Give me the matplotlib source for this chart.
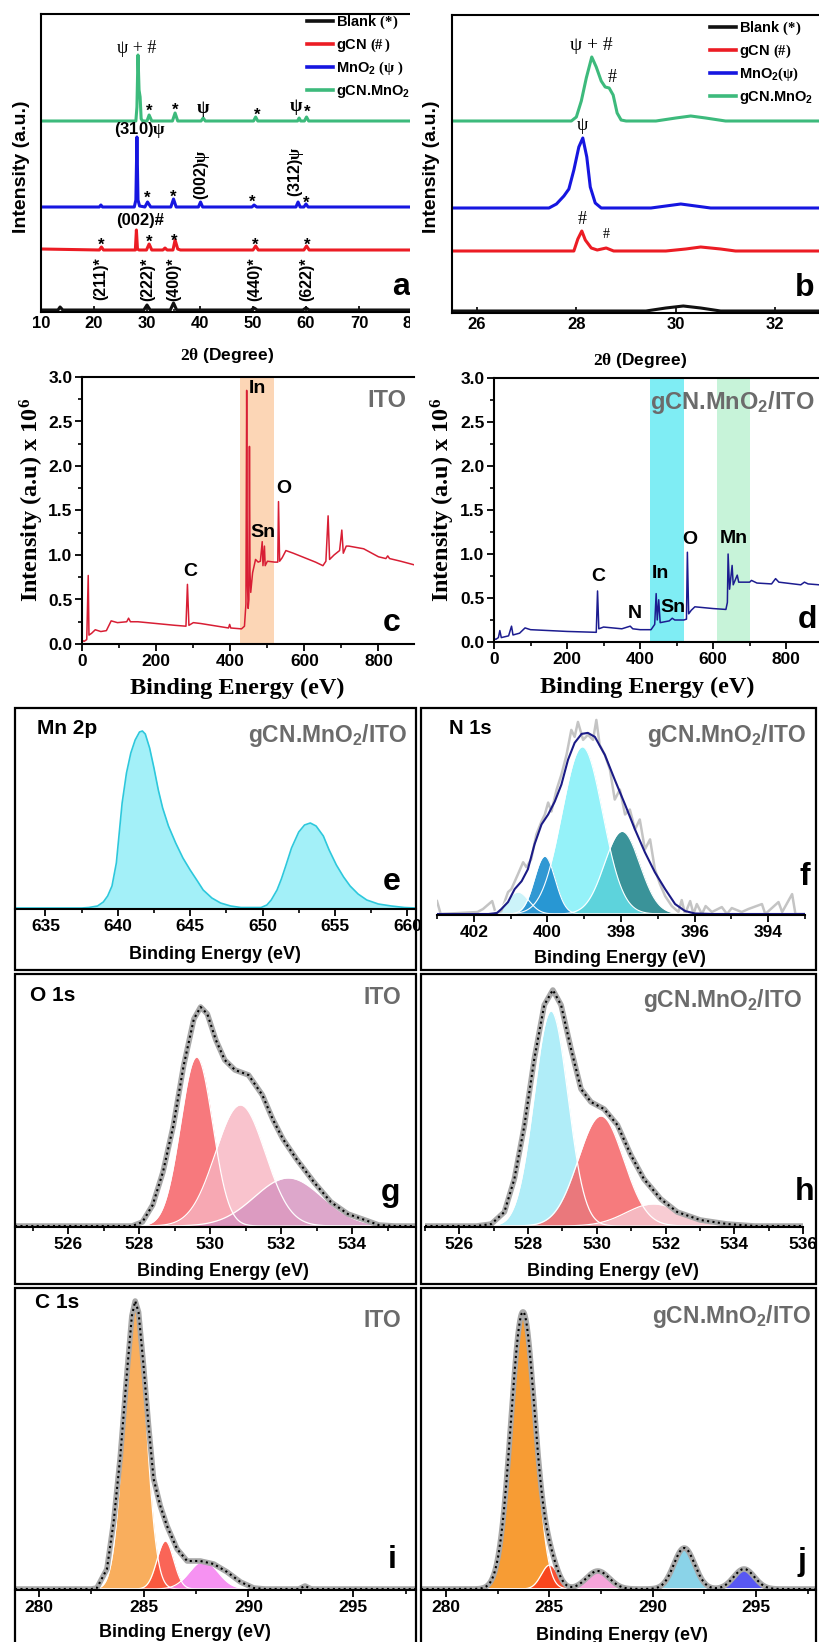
import numpy as np
import matplotlib
matplotlib.use('Agg')
import matplotlib.pyplot as plt
from matplotlib.lines import Line2D
from matplotlib.patches import Rectangle
from matplotlib.ticker import MultipleLocator, FormatStrFormatter

plt.rcParams.update({
    'font.family': 'Liberation Sans',
    'font.weight': 'bold',
    'mathtext.fontset': 'custom',
    'mathtext.rm': 'Liberation Serif',
    'mathtext.it': 'Liberation Serif:italic',
    'mathtext.bf': 'Liberation Sans:bold',
    'mathtext.tt': 'Liberation Serif:bold',
    'axes.linewidth': 1.5,
})

# ---------------------------------------------------------------- XRD (a, b)
# (2theta, intensity offset) pairs, stacked traces
XRD_BLANK = [(10, 2), (13.2, 2), (13.6, 5), (14.1, 2), (29.4, 2), (30.0, 7), (30.6, 2),
             (34.4, 2), (35.0, 9), (35.6, 2), (49.6, 2), (50.2, 4), (50.8, 2),
             (59.4, 2), (60.0, 4), (60.6, 2), (80, 2)]
XRD_GCN = [(10, 63), (21.0, 62), (21.4, 65), (21.8, 62), (27.8, 62), (28.0, 82), (28.2, 63),
           (28.5, 62), (29.9, 62), (30.4, 68), (30.9, 62), (33.0, 62), (33.4, 64), (33.8, 62),
           (34.9, 62), (35.3, 72), (35.8, 63), (36.3, 62), (50.0, 62), (50.5, 66), (51.0, 62),
           (59.6, 62), (60.1, 66), (60.6, 62), (80, 62)]
XRD_MNO2 = [(10, 105), (21.0, 105), (21.3, 107), (21.6, 105), (27.6, 105), (27.9, 112),
            (28.1, 175), (28.3, 112), (28.6, 106), (29.6, 105), (30.1, 110), (30.7, 105),
            (34.5, 105), (35.0, 113), (35.5, 105), (39.7, 105), (40.1, 110), (40.5, 105),
            (49.8, 105), (50.2, 107), (50.7, 105), (58.1, 105), (58.5, 110), (58.9, 105),
            (59.6, 105), (60.0, 108), (60.4, 105), (80, 105)]
XRD_COMPOSITE = [(10, 191), (27.9, 191), (28.1, 205), (28.3, 257), (28.5, 222), (28.7, 215),
                 (28.9, 193), (29.2, 191), (30.0, 191), (30.4, 197), (30.9, 191), (34.8, 191),
                 (35.3, 199), (35.8, 191), (40.2, 191), (40.6, 194), (41.0, 191), (50.1, 191),
                 (50.5, 195), (50.9, 191), (58.4, 191), (58.7, 194), (59.0, 191), (59.7, 191),
                 (60.1, 195), (60.5, 191), (80, 191)]

ZOOM_BLANK = [(25.5, 2), (29.4, 2), (29.8, 5), (30.15, 7), (30.5, 5), (30.9, 2), (33.1, 2)]
ZOOM_GCN = [(25.5, 62), (27.95, 62), (28.03, 74), (28.11, 82), (28.18, 73), (28.3, 65),
            (28.42, 63), (28.6, 65), (28.75, 62), (29.8, 62), (30.2, 64), (30.5, 66),
            (30.9, 64), (31.2, 62), (33.1, 62)]
ZOOM_MNO2 = [(25.5, 105), (27.45, 105), (27.6, 109), (27.75, 117), (27.85, 124), (27.95, 143),
             (28.05, 166), (28.13, 175), (28.21, 156), (28.28, 126), (28.38, 110), (28.5, 105),
             (29.5, 105), (30.1, 109), (30.7, 105), (33.1, 105)]
ZOOM_COMPOSITE = [(25.5, 192), (27.9, 192), (28.0, 196), (28.1, 212), (28.2, 235), (28.31, 256),
                  (28.4, 246), (28.5, 232), (28.58, 226), (28.66, 225), (28.74, 218),
                  (28.82, 200), (28.9, 193), (29.0, 192), (29.6, 192), (30.0, 195), (30.3, 197),
                  (30.6, 195), (31.0, 192), (33.1, 192)]

XRD_COLORS = ['#111111', '#ec1c24', '#1616e0', '#3dba7c']
XRD_LABELS_A = ['Blank $\\mathrm{(*)}$', 'gCN $\\mathrm{(\\#\\,)}$',
                'MnO$_\\mathbf{2}$ $\\mathrm{(\\psi\\ )}$', 'gCN.MnO$_\\mathbf{2}$']
XRD_LABELS_B = ['Blank $\\mathrm{(*)}$', 'gCN $\\mathrm{(\\#)}$',
                'MnO$_\\mathbf{2}$$\\mathrm{(\\psi)}$', 'gCN.MnO$_\\mathbf{2}$']

# ---------------------------------------------------------------- XPS survey (c, d)
SURVEY_ITO = [(0, 0.04), (5, 0.03), (12, 0.05), (16, 0.77), (18, 0.1), (25, 0.12), (35, 0.16),
              (50, 0.14), (65, 0.15), (78, 0.26), (95, 0.24), (120, 0.25), (125, 0.29),
              (130, 0.25), (150, 0.25), (200, 0.23), (250, 0.21), (280, 0.2), (284, 0.67),
              (288, 0.21), (300, 0.24), (320, 0.23), (350, 0.21), (395, 0.18), (398, 0.22),
              (401, 0.18), (430, 0.17), (438, 0.2), (442, 0.45), (444, 2.85), (446, 0.7),
              (448, 0.4), (450, 0.5), (451.5, 2.22), (453, 0.8), (455, 0.58), (460, 0.8),
              (468, 0.95), (475, 0.92), (481, 0.93), (486, 1.15), (488, 0.88), (492, 1.1),
              (494, 0.88), (500, 0.93), (520, 0.92), (528, 0.92), (530, 1.6), (533, 0.93),
              (540, 0.97), (550, 1.05), (570, 1.02), (600, 0.97), (630, 0.92), (650, 0.88),
              (658, 0.93), (664, 1.44), (668, 0.95), (680, 1.0), (695, 1.05), (701, 1.28),
              (705, 1.02), (713, 1.1), (720, 1.1), (760, 1.07), (800, 0.98), (820, 0.96),
              (825, 0.99), (830, 0.96), (860, 0.93), (896, 0.89)]
SURVEY_COMPOSITE = [(0, 0.04), (5, 0.03), (12, 0.05), (16, 0.13), (20, 0.05), (40, 0.07),
                    (48, 0.18), (52, 0.08), (70, 0.1), (85, 0.16), (100, 0.14), (200, 0.12),
                    (280, 0.11), (283.5, 0.58), (287, 0.15), (300, 0.17), (350, 0.15),
                    (373, 0.18), (380, 0.15), (400, 0.14), (430, 0.14), (440, 0.2), (444, 0.55),
                    (447, 0.25), (451, 0.48), (455, 0.22), (480, 0.24), (488, 0.27), (495, 0.25),
                    (520, 0.25), (527, 0.26), (529.5, 1.02), (533, 0.32), (540, 0.36),
                    (550, 0.4), (600, 0.38), (635, 0.37), (639, 0.45), (641, 1.0), (645, 0.6),
                    (652, 0.87), (655, 0.65), (666, 0.76), (670, 0.68), (700, 0.68), (705, 0.7),
                    (720, 0.67), (760, 0.66), (771, 0.72), (780, 0.68), (840, 0.65), (850, 0.68),
                    (860, 0.66), (920, 0.64)]
ITO_BAND = (426, 519)
MN_BANDS = [(427, 520, '#7fedf4'), (611, 700, '#c7f3d9')]

# ---------------------------------------------------------------- Mn 2p (e)
MN2P = [(632.9, 0), (637.5, 0), (638.0, 0.5), (638.6, 2), (639.0, 6), (639.3, 12),
        (639.6, 22), (639.9, 45), (640.1, 75), (640.3, 105), (640.6, 135), (640.9, 155),
        (641.2, 168), (641.5, 176), (641.7, 177), (641.9, 174), (642.2, 160), (642.5, 140),
        (642.8, 118), (643.1, 100), (643.5, 82), (644.0, 65), (644.5, 50), (645.0, 38),
        (645.5, 27), (645.9, 18), (646.5, 10), (647.1, 5), (647.8, 2), (648.5, 0.5),
        (649.9, 0.5), (650.3, 3), (650.6, 8), (651.0, 18), (651.3, 29), (651.6, 42),
        (652.0, 60), (652.5, 76), (652.9, 83), (653.3, 85), (653.7, 82), (654.2, 72),
        (654.6, 58), (655.1, 43), (655.6, 31), (656.05, 22), (656.6, 14), (657.2, 8),
        (658.0, 4), (658.9, 2), (659.8, 0.5), (660.6, 0)]

# ---------------------------------------------------------------- N 1s (f)
N1S_RAW = [(403.0, 13), (402.9, 0), (401.9, 2), (401.75, 5), (401.5, 13), (401.4, 0),
           (401.25, 3), (401.07, 22), (400.98, 25), (400.8, 40), (400.66, 52), (400.57, 47),
           (400.44, 55), (400.3, 80), (400.16, 93), (400.07, 100), (399.98, 112),
           (399.89, 103), (399.75, 125), (399.62, 140), (399.48, 160), (399.35, 185),
           (399.26, 178), (399.17, 193), (399.03, 175), (398.9, 180), (398.76, 175),
           (398.67, 195), (398.58, 170), (398.44, 160), (398.3, 145), (398.17, 115),
           (398.03, 125), (397.89, 100), (397.76, 105), (397.62, 85), (397.49, 95),
           (397.35, 65), (397.21, 75), (397.08, 45), (396.94, 30), (396.8, 18), (396.62, 8),
           (396.44, 2), (396.35, 14), (396.26, 0), (396.12, 13), (396.03, 0), (395.94, 10),
           (395.8, 0), (395.7, 8), (395.53, 2), (395.26, 7), (395.12, 0), (394.99, 6),
           (394.72, 2), (394.54, 5), (394.17, 10), (394.08, 0), (393.72, 12), (393.62, 2),
           (393.35, 20), (393.26, 0), (393.0, 0)]
N1S_ENVELOPE = [(403.0, 0), (401.6, 0), (401.37, 1), (401.25, 5), (401.07, 12), (400.89, 25),
                (400.7, 33), (400.53, 45), (400.35, 70), (400.16, 90), (399.98, 100),
                (399.8, 113), (399.62, 130), (399.44, 155), (399.26, 172), (399.07, 181),
                (398.9, 182), (398.71, 178), (398.44, 160), (398.17, 135), (397.89, 110),
                (397.62, 85), (397.35, 62), (397.08, 42), (396.8, 25), (396.53, 10),
                (396.26, 3), (395.99, 0.5), (395.5, 0), (393.0, 0)]
N1S_CENTER = [397.97, 399.05, 400.8, 400.07]
N1S_HEIGHT = [83, 168, 22, 58]
N1S_SIGMA = [0.48, 0.55, 0.3, 0.28]
N1S_COLOR = ['#3a9399', '#6cedf7', '#c4f1f8', '#1f8fd0']
N1S_ALPHA = [1.0, 0.72, 0.85, 0.92]

# ---------------------------------------------------------------- O 1s (g, h)
O1S_ITO_ENVELOPE = [(524.5, 0), (527.8, 0), (528.09, 4), (528.38, 21), (528.67, 54),
                    (528.96, 100), (529.25, 160), (529.54, 207), (529.73, 219), (529.92, 212),
                    (530.16, 186), (530.41, 166), (530.7, 156), (531.08, 151), (531.47, 131),
                    (531.76, 107), (532.05, 87), (532.43, 67), (532.92, 44), (533.4, 24),
                    (533.88, 12), (534.36, 6), (534.75, 1), (535.2, 0), (535.8, 0)]
O1S_ITO_CENTER = [529.62, 530.85, 532.2]
O1S_ITO_HEIGHT = [169, 121, 48]
O1S_ITO_SIGMA = [0.45, 0.70, 0.95]
O1S_ITO_COLOR = ['#f6585d', '#f8b4c1', '#d591bf']

O1S_MN_ENVELOPE = [(525.0, 0), (526.5, 0), (526.93, 2), (527.31, 14), (527.6, 47),
                   (527.89, 100), (528.18, 167), (528.47, 221), (528.72, 236), (528.96, 221),
                   (529.25, 177), (529.54, 137), (529.83, 124), (530.21, 117), (530.6, 101),
                   (530.99, 71), (531.37, 47), (531.86, 27), (532.34, 14), (533.01, 6),
                   (533.79, 2), (534.6, 0), (536.0, 0)]
O1S_MN_CENTER = [528.67, 530.12, 531.65]
O1S_MN_HEIGHT = [215, 110, 22]
O1S_MN_SIGMA = [0.49, 0.66, 0.8]
O1S_MN_COLOR = ['#a2eaf7', '#f56466', '#f7c3cc']

# ---------------------------------------------------------------- C 1s (i, j)
C1S_ITO_ENVELOPE = [(278.85, 0), (282.5, 0), (282.76, 1), (283.24, 20), (283.56, 67),
                    (283.88, 133), (284.2, 217), (284.43, 273), (284.59, 288), (284.75, 277),
                    (284.99, 223), (285.23, 163), (285.47, 110), (285.79, 83), (286.11, 63),
                    (286.59, 40), (287.07, 28), (287.7, 28), (288.34, 25), (288.98, 17),
                    (289.62, 7), (290.25, 1), (290.8, 0), (292.4, 0), (292.7, 3), (293.0, 0),
                    (298.0, 0)]
C1S_ITO_CENTER = [284.58, 286.03, 287.86]
C1S_ITO_HEIGHT = [287, 48, 28]
C1S_ITO_SIGMA = [0.52, 0.4, 0.68]
C1S_ITO_COLOR = ['#f9a040', '#fa4a3a', '#f57ff0']

C1S_MN_CENTER = [283.73, 285.02, 287.35, 291.53, 294.42]
C1S_MN_HEIGHT = [277, 24, 18, 41, 20]
C1S_MN_SIGMA = [0.58, 0.4, 0.55, 0.5, 0.5]
C1S_MN_COLOR = ['#f7911e', '#fa3d1c', '#f59ad6', '#7dcfe6', '#4646f2']

GREY_TEXT = '#6b6b6b'

W, H = 819, 1642
fig = plt.figure(figsize=(W / 100, H / 100), dpi=100)


def px_axes(l, t, r, b, **kw):
    return fig.add_axes([l / W, 1 - b / H, (r - l) / W, (b - t) / H], **kw)


def px_box(l, t, r, b):
    fig.add_artist(Rectangle((l / W, 1 - b / H), (r - l) / W, (b - t) / H,
                             transform=fig.transFigure, fill=False, lw=1.6,
                             ec='black', zorder=5))


def px_text(x, y, s, **kw):
    kw.setdefault('ha', 'center')
    kw.setdefault('va', 'center')
    fig.text(x / W, 1 - y / H, s, **kw)


def pairs(data):
    arr = np.array(data, dtype=float)
    return arr[:, 0], arr[:, 1]


def gauss(x, c, h, s):
    return h * np.exp(-0.5 * ((x - c) / s) ** 2)


def draw_fit_panel(ax, xlim, ylim, major, minor):
    ax.set_xlim(*xlim)
    ax.set_ylim(*ylim)
    ax.set_yticks([])
    for side in ('left', 'right', 'top'):
        ax.spines[side].set_visible(False)
    ax.patch.set_alpha(0)
    ax.xaxis.set_major_locator(MultipleLocator(major))
    ax.xaxis.set_minor_locator(MultipleLocator(minor))
    ax.tick_params(axis='x', which='major', direction='out', length=5, width=1.3,
                   labelsize=12.5, pad=2)
    ax.tick_params(axis='x', which='minor', direction='out', length=3, width=1.2)


def draw_components(ax, x, centers, heights, sigmas, colors, alpha=0.85):
    for c, h, s, col in zip(centers, heights, sigmas, colors):
        y = gauss(x, c, h, s)
        ax.fill_between(x, 0, y, color=col, alpha=alpha, lw=0)
        ax.plot(x, y, color='white', lw=0.9)


def draw_envelope(ax, x, y):
    ax.plot(x, y, color='#a8a8a8', lw=4, solid_capstyle='round', solid_joinstyle='round')
    ax.plot(x, y, color='black', lw=1.5, ls=(0, (1, 1.6)))


# white sheet so the right-hand panels overlap the XRD legend
fig.add_artist(Rectangle((410 / W, 1 - 365 / H), 409 / W, 365 / H, transform=fig.transFigure,
                         fc='white', ec='none', zorder=0.5))

# ---------------------------------------------------------------- panel a
ax = px_axes(41, 14, 412, 312)
for trace, col in zip([XRD_BLANK, XRD_GCN, XRD_MNO2, XRD_COMPOSITE], XRD_COLORS):
    tt, y = pairs(trace)
    ax.plot(tt, y, color=col, lw=2.2, solid_joinstyle='round')
ax.set_xlim(10, 80)
ax.set_ylim(0, 298)
ax.set_yticks([])
ax.xaxis.set_major_locator(MultipleLocator(10))
ax.xaxis.set_minor_locator(MultipleLocator(5))
ax.tick_params(axis='x', which='major', direction='in', length=4, width=1.2, labelsize=12, pad=3)
ax.tick_params(axis='x', which='minor', direction='in', length=2.5, width=1.1)
handles = [Line2D([], [], color=c, lw=2.6) for c in XRD_COLORS]
ax.legend(handles, XRD_LABELS_A, loc='upper left', bbox_to_anchor=(307 / W, 1 - 14 / H),
          bbox_transform=fig.transFigure, frameon=False, fontsize=10.5, handlelength=1.75,
          handletextpad=0.25, labelspacing=0.38, borderpad=0, borderaxespad=0)
serif = dict(family='Liberation Serif', weight='normal')
ax.text(28.06, 264, 'ψ + #', size=13, ha='center', va='center', **serif)
for x, y in [(30.5, 201), (35.4, 202), (50.7, 197), (60.2, 200)]:
    ax.text(x, y, '*', size=12, ha='center', va='center')
for x, y in [(40.6, 204), (58.1, 206)]:
    ax.text(x, y, 'ψ', size=13, ha='center', va='center', family='Liberation Serif')
ax.text(28.7, 182, '(310)$\\mathrm{\\psi}$', size=12, ha='center', va='center')
for x, y in [(30.0, 114), (35.0, 115), (49.9, 110), (60.1, 109)]:
    ax.text(x, y, '*', size=12, ha='center', va='center')
ax.text(40.4, 137, '(002)$\\mathrm{\\psi}$', size=11.5, rotation=90, ha='center', va='center')
ax.text(58.1, 140, '(312)$\\mathrm{\\psi}$', size=11.5, rotation=90, ha='center', va='center')
ax.text(28.7, 92, '(002)#', size=12, ha='center', va='center')
for x, y in [(21.4, 67), (30.4, 70), (35.1, 71), (50.4, 67), (60.2, 67)]:
    ax.text(x, y, '*', size=12, ha='center', va='center')
for x, lab in [(21.2, '(211)*'), (30.2, '(222)*'), (35.1, '(400)*'), (50.4, '(440)*'),
               (60.1, '(622)*')]:
    ax.text(x, 33, lab, size=11.5, rotation=90, ha='center', va='center')
ax.text(78.0, 25, 'a', size=23, ha='center', va='center')
px_text(22, 167, 'Intensity (a.u.)', size=14, rotation=90)
px_text(227, 355, '$\\mathrm{2\\theta}$ (Degree)', size=12.5)

# ---------------------------------------------------------------- panel b
ax = px_axes(452, 15, 830, 313, zorder=1)
for trace, col in zip([ZOOM_BLANK, ZOOM_GCN, ZOOM_MNO2, ZOOM_COMPOSITE], XRD_COLORS):
    tt, y = pairs(trace)
    ax.plot(tt, y, color=col, lw=2.2, solid_joinstyle='round')
ax.set_xlim(25.5, 33.1)
ax.set_ylim(0, 298)
ax.set_yticks([])
ax.xaxis.set_major_locator(MultipleLocator(2))
ax.xaxis.set_minor_locator(MultipleLocator(1))
ax.tick_params(axis='x', which='major', direction='in', length=4, width=1.2, labelsize=12, pad=3)
ax.tick_params(axis='x', which='minor', direction='in', length=2.5, width=1.1)
ax.legend(handles, XRD_LABELS_B, loc='upper left', bbox_to_anchor=(710 / W, 1 - 20 / H),
          bbox_transform=fig.transFigure, frameon=False, fontsize=10.5, handlelength=1.75,
          handletextpad=0.25, labelspacing=0.38, borderpad=0, borderaxespad=0)
ax.text(28.31, 267, 'ψ + #', size=14, ha='center', va='center', **serif)
ax.text(28.72, 236, '#', size=13, ha='center', va='center', **serif)
ax.text(28.13, 188, 'ψ', size=13, ha='center', va='center', **serif)
ax.text(28.11, 94, '#', size=13, ha='center', va='center', **serif)
ax.text(28.6, 79, '#', size=10, ha='center', va='center', **serif)
ax.text(32.6, 25, 'b', size=23, ha='center', va='center')
px_text(432, 167, 'Intensity (a.u.)', size=14, rotation=90, zorder=4)
px_text(640, 360, '$\\mathrm{2\\theta}$ (Degree)', size=12.5, zorder=4)

# ---------------------------------------------------------------- panels c, d
survey_font = dict(family='Liberation Serif', weight='bold')


def survey_axes(ax, xmax):
    ax.set_xlim(0, xmax)
    ax.set_ylim(0, 3.0)
    ax.spines['right'].set_visible(False)
    ax.xaxis.set_major_locator(MultipleLocator(200))
    ax.xaxis.set_minor_locator(MultipleLocator(100))
    ax.yaxis.set_major_locator(MultipleLocator(0.5))
    ax.yaxis.set_minor_locator(MultipleLocator(0.25))
    ax.yaxis.set_major_formatter(FormatStrFormatter('%.1f'))
    ax.tick_params(which='major', direction='out', length=5, width=1.3, labelsize=12.5, pad=2)
    ax.tick_params(which='minor', direction='out', length=3, width=1.2)


ax = px_axes(82.3, 377, 414, 644)
ax.axvspan(*ITO_BAND, color='#fcd6b6', lw=0)
e, i = pairs(SURVEY_ITO)
ax.plot(e, i, color='#d81e34', lw=1.1)
survey_axes(ax, 896)
ax.text(474, 2.87, 'In', size=14, ha='center', va='center')
ax.text(489, 1.25, 'Sn', size=14, ha='center', va='center')
ax.text(543, 1.75, 'O', size=14, ha='center', va='center')
ax.text(292, 0.82, 'C', size=14, ha='center', va='center')
px_text(387, 400, 'ITO', size=17, color=GREY_TEXT)
px_text(392, 623, 'c', size=23)
px_text(32, 500, 'Intensity (a.u) x 10$^\\mathtt{6}$', size=17.5, rotation=90, **survey_font)
px_text(237, 688, 'Binding Energy (eV)', size=17.5, **survey_font)

ax = px_axes(494, 378, 830, 642)
for lo, hi, col in MN_BANDS:
    ax.axvspan(lo, hi, color=col, lw=0)
e, i = pairs(SURVEY_COMPOSITE)
ax.plot(e, i, color='#1c1c90', lw=1.1)
survey_axes(ax, 920)
ax.text(285, 0.74, 'C', size=14, ha='center', va='center')
ax.text(385, 0.32, 'N', size=14, ha='center', va='center')
ax.text(456, 0.78, 'In', size=14, ha='center', va='center')
ax.text(491, 0.39, 'Sn', size=14, ha='center', va='center')
ax.text(536, 1.17, 'O', size=14, ha='center', va='center')
ax.text(657, 1.18, 'Mn', size=14, ha='center', va='center')
px_text(732, 402, 'gCN.MnO$_\\mathbf{2}$/ITO', size=17, color=GREY_TEXT)
px_text(807, 620, 'd', size=23)
px_text(443, 500, 'Intensity (a.u) x 10$^\\mathtt{6}$', size=17.5, rotation=90, **survey_font)
px_text(647, 687, 'Binding Energy (eV)', size=17.5, **survey_font)

# ---------------------------------------------------------------- panel e
ax = px_axes(15, 709, 416, 909)
e, i = pairs(MN2P)
ax.fill_between(e, 0, i, color='#a3f0f8', lw=0)
ax.plot(e, i, color='#2dc8dc', lw=1.2, solid_joinstyle='round')
draw_fit_panel(ax, (632.9, 660.6), (-1, 199), 5, 2.5)
px_box(15, 708, 416, 970)
px_text(67, 728, 'Mn 2p', size=15)
px_text(328, 735, 'gCN.MnO$_\\mathbf{2}$/ITO', size=16.5, color=GREY_TEXT)
px_text(392, 882, 'e', size=23)
px_text(215, 954, 'Binding Energy (eV)', size=13)

# ---------------------------------------------------------------- panel f
ax = px_axes(437, 709, 805, 915)
x = np.linspace(393, 403, 600)
er, yr = pairs(N1S_RAW)
ax.plot(er, yr, color='#c4c4c4', lw=1.8)
for c, h, s, col, a in zip(N1S_CENTER, N1S_HEIGHT, N1S_SIGMA, N1S_COLOR, N1S_ALPHA):
    y = gauss(x, c, h, s)
    ax.fill_between(x, 0, y, color=col, alpha=a, lw=0)
    ax.plot(x, y, color='white', lw=0.8)
ee, ye = pairs(N1S_ENVELOPE)
ax.plot(ee, ye, color='#1b1b86', lw=1.5)
draw_fit_panel(ax, (403, 393), (-1, 206), 2, 1)
px_box(421, 708, 816, 970)
px_text(470, 728, 'N 1s', size=14.5)
px_text(727, 735, 'gCN.MnO$_\\mathbf{2}$/ITO', size=16.5, color=GREY_TEXT)
px_text(805, 877, 'f', size=23)
px_text(620, 958, 'Binding Energy (eV)', size=13)

# ---------------------------------------------------------------- panel g
ax = px_axes(15, 974, 416, 1227)
x = np.linspace(524.5, 535.8, 600)
draw_components(ax, x, O1S_ITO_CENTER, O1S_ITO_HEIGHT, O1S_ITO_SIGMA, O1S_ITO_COLOR, 0.8)
draw_envelope(ax, *pairs(O1S_ITO_ENVELOPE))
draw_fit_panel(ax, (524.5, 535.8), (-1, 252), 2, 1)
px_box(15, 974, 416, 1284)
px_text(53, 995, 'O 1s', size=15)
px_text(382, 997, 'ITO', size=16.5, color=GREY_TEXT)
px_text(390, 1193, 'g', size=23)
px_text(223, 1272, 'Binding Energy (eV)', size=13)

# ---------------------------------------------------------------- panel h
ax = px_axes(425, 974, 803, 1227)
x = np.linspace(525, 536, 600)
draw_components(ax, x, O1S_MN_CENTER, O1S_MN_HEIGHT, O1S_MN_SIGMA, O1S_MN_COLOR, 0.85)
draw_envelope(ax, *pairs(O1S_MN_ENVELOPE))
draw_fit_panel(ax, (525, 536), (-1, 252), 2, 1)
px_box(421, 974, 816, 1284)
px_text(723, 1000, 'gCN.MnO$_\\mathbf{2}$/ITO', size=16.5, color=GREY_TEXT)
px_text(805, 1192, 'h', size=23)
px_text(613, 1272, 'Binding Energy (eV)', size=13)

# ---------------------------------------------------------------- panel i
ax = px_axes(15, 1288, 416, 1590)
x = np.linspace(278.85, 298, 800)
draw_components(ax, x, C1S_ITO_CENTER, C1S_ITO_HEIGHT, C1S_ITO_SIGMA, C1S_ITO_COLOR, 0.85)
draw_envelope(ax, *pairs(C1S_ITO_ENVELOPE))
draw_fit_panel(ax, (278.85, 298), (-1, 301), 5, 2.5)
px_box(15, 1288, 416, 1650)
px_text(57, 1303, 'C 1s', size=15)
px_text(382, 1320, 'ITO', size=16.5, color=GREY_TEXT)
px_text(392, 1560, 'i', size=23)
px_text(185, 1632, 'Binding Energy (eV)', size=13)

# ---------------------------------------------------------------- panel j
ax = px_axes(421, 1288, 816, 1590)
x = np.linspace(278.8, 297.9, 800)
draw_components(ax, x, C1S_MN_CENTER, C1S_MN_HEIGHT, C1S_MN_SIGMA, C1S_MN_COLOR, 0.9)
fit = sum(gauss(x, c, h, s) for c, h, s in zip(C1S_MN_CENTER, C1S_MN_HEIGHT, C1S_MN_SIGMA))
draw_envelope(ax, x, fit)
draw_fit_panel(ax, (278.8, 297.9), (-1, 301), 5, 2.5)
px_box(421, 1288, 816, 1650)
px_text(732, 1317, 'gCN.MnO$_\\mathbf{2}$/ITO', size=16.5, color=GREY_TEXT)
px_text(802, 1562, 'j', size=23)
px_text(622, 1635, 'Binding Energy (eV)', size=13)

fig.savefig('out.png', dpi=100)
